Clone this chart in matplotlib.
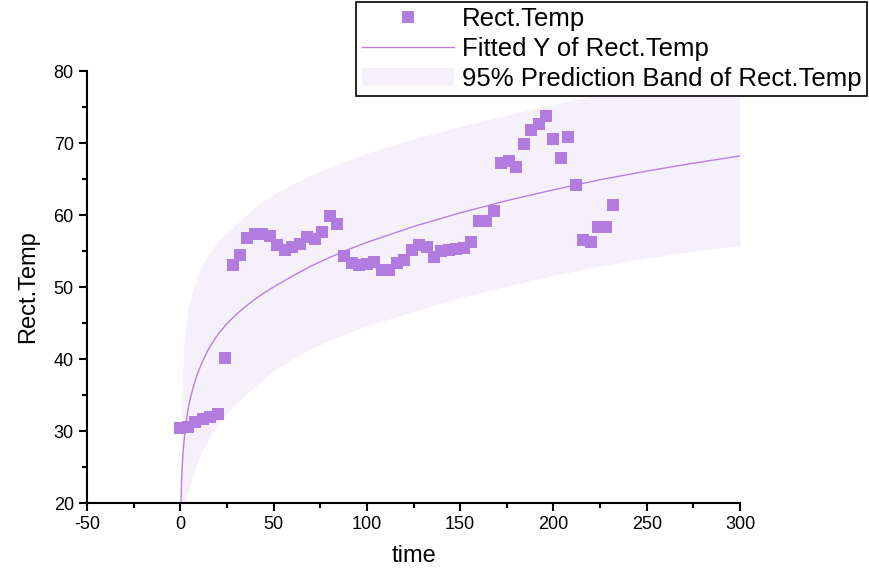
import numpy as np
import matplotlib
matplotlib.use("Agg")
import matplotlib.pyplot as plt
from matplotlib.ticker import MultipleLocator

plt.rcParams['font.family'] = ['Liberation Sans', 'DejaVu Sans']
plt.rcParams['axes.unicode_minus'] = False

# measured points
time = np.arange(0, 233, 4)
rect_temp = [30.4, 30.5, 31.2, 31.7, 31.9, 32.3, 40.2, 53.1, 54.5, 56.8,
             57.4, 57.3, 57.1, 55.9, 55.2, 55.5, 56.0, 56.9, 56.7, 57.7,
             59.9, 58.8, 54.3, 53.4, 53.0, 53.2, 53.5, 52.4, 52.4, 53.4,
             53.8, 55.1, 55.9, 55.5, 54.2, 55.0, 55.2, 55.3, 55.4, 56.3,
             59.2, 59.2, 60.6, 67.2, 67.5, 66.7, 69.8, 71.8, 72.6, 73.8,
             70.5, 67.9, 70.8, 64.2, 56.5, 56.2, 58.4, 58.4, 61.4]

# fitted curve and 95% prediction band
fit_t = [0.35, 0.5, 0.75, 1, 1.5, 2, 3, 4, 5, 6.5, 8, 10, 12.5, 15, 18, 21,
         25, 30, 35, 40, 45, 50, 60, 70, 80, 90, 100, 125, 150, 175, 200,
         225, 250, 275, 300]
fit_y = [20.0, 21.6, 23.6, 25.0, 27.0, 28.6, 31.0, 32.8, 34.1, 35.7, 37.0,
         38.5, 40.0, 41.3, 42.6, 43.7, 44.9, 46.2, 47.3, 48.3, 49.2, 50.0,
         51.5, 52.9, 54.1, 55.2, 56.2, 58.4, 60.3, 62.0, 63.5, 64.9, 66.1,
         67.2, 68.2]
band_lo = [3.0, 6.0, 9.5, 12.0, 15.5, 18.2, 20.2, 21.2, 22.2, 23.6, 24.8,
           26.2, 27.6, 28.8, 30.1, 31.2, 32.4, 33.8, 35.0, 36.2, 37.3, 38.4,
           40.0, 41.4, 42.6, 43.6, 44.6, 46.6, 48.5, 50.1, 51.6, 52.9, 54.0,
           55.0, 55.8]
band_hi = [22.0, 27.0, 32.0, 35.5, 40.2, 42.3, 45.0, 46.8, 48.0, 49.5, 50.7,
           52.0, 53.4, 54.5, 55.6, 56.5, 57.5, 58.7, 59.9, 61.1, 62.0, 62.9,
           64.3, 65.5, 66.7, 67.7, 68.6, 70.6, 72.3, 73.9, 75.4, 76.8, 78.1,
           79.3, 80.5]

purple = '#b27bdf'

fig = plt.figure(figsize=(8.7, 5.76), dpi=100)
ax = fig.add_axes([0.1, 0.1267, 0.7506, 0.75])

band = ax.fill_between(fit_t, band_lo, band_hi, color='#f6f0fb', lw=0)
line, = ax.plot(fit_t, fit_y, color='#b880e0', lw=1.0)
pts, = ax.plot(time, rect_temp, 's', color=purple, ms=8, mew=0)

ax.set_xlim(-50, 300)
ax.set_ylim(20, 80)
ax.xaxis.set_major_locator(MultipleLocator(50))
ax.xaxis.set_minor_locator(MultipleLocator(25))
ax.yaxis.set_major_locator(MultipleLocator(10))
ax.yaxis.set_minor_locator(MultipleLocator(5))
ax.spines['top'].set_visible(False)
ax.spines['right'].set_visible(False)
for s in ('left', 'bottom'):
    ax.spines[s].set_linewidth(1.5)
ax.tick_params(which='major', length=6, width=1.5, labelsize=13)
ax.tick_params(which='minor', length=3.5, width=1.5)

ax.set_xlabel('time', fontsize=17)
ax.set_ylabel('Rect.Temp', fontsize=17)
ax.xaxis.set_label_coords(0.5, -0.097)
ax.yaxis.set_label_coords(-0.073, 0.5)

leg = fig.legend([pts, line, band],
                 ['Rect.Temp', 'Fitted Y of Rect.Temp',
                  '95% Prediction Band of Rect.Temp'],
                 loc='upper right', bbox_to_anchor=(0.996, 0.996),
                 fontsize=18.5, frameon=True, fancybox=False, framealpha=1,
                 edgecolor='black', handlelength=3.6, handletextpad=0.3,
                 borderpad=0.2, labelspacing=0.22, borderaxespad=0)
leg.get_frame().set_linewidth(1.2)

fig.savefig('out.png', dpi=100)
